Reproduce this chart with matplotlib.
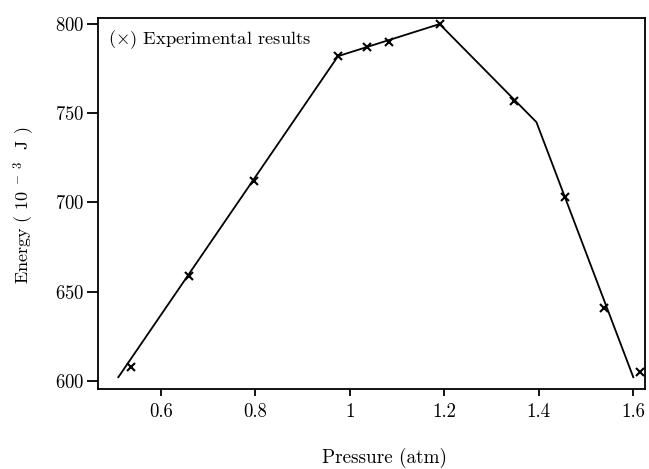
import matplotlib
matplotlib.use("Agg")
import matplotlib.pyplot as plt
from matplotlib.ticker import FuncFormatter

plt.rcParams['font.family'] = ['cmr10', 'DejaVu Serif']
plt.rcParams['mathtext.fontset'] = 'cm'
plt.rcParams['axes.formatter.use_mathtext'] = True

# fitted curve (vertices of the drawn line)
curve_p = [0.51, 0.975, 1.19, 1.395, 1.60]
curve_e = [602, 782, 800, 745, 602]

# experimental results (x markers)
exp_p = [0.537, 0.659, 0.797, 0.975, 1.037, 1.083, 1.19, 1.348, 1.455, 1.537, 1.615]
exp_e = [608, 659, 712, 782, 787, 790, 800, 757, 703, 641, 605]

xticks = [0.6, 0.8, 1.0, 1.2, 1.4, 1.6]
yticks = [600, 650, 700, 750, 800]

fig = plt.figure(figsize=(6.49, 4.69), dpi=100)
ax = fig.add_axes([0.151, 0.171, 0.843, 0.791])

ax.plot(curve_p, curve_e, color='black', lw=1.3)
ax.plot(exp_p, exp_e, ls='none', marker='x', ms=6, mew=1.5, color='black')

ax.set_xlim(0.467, 1.625)
ax.set_ylim(595.5, 803.5)
ax.set_xticks(xticks)
ax.set_yticks(yticks)
ax.xaxis.set_major_formatter(FuncFormatter(lambda v, p: f"{v:g}"))
ax.tick_params(axis='both', direction='out', labelsize=13.5, width=1.3)
ax.tick_params(axis='x', length=5, pad=5)
ax.tick_params(axis='y', length=8, pad=1.5)
for s in ax.spines.values():
    s.set_linewidth(1.3)

ax.text(0.018, 0.94, r"($\times$) Experimental results", transform=ax.transAxes,
        fontsize=13.3, va='center', ha='left')

ax.set_xlabel("Pressure (atm)", fontsize=13.8)
ax.xaxis.set_label_coords(0.523, -0.158)
ax.set_ylabel(r"Energy ( 10$^{\ -\ 3}$  J )", fontsize=13)
ax.yaxis.set_label_coords(-0.112, 0.496)

fig.savefig("out.png", dpi=100)
